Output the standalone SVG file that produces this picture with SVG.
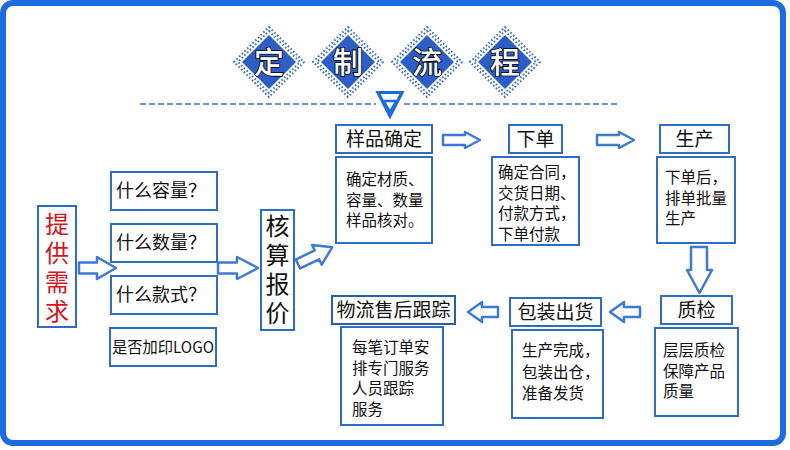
<svg xmlns="http://www.w3.org/2000/svg" width="790" height="450" viewBox="0 0 790 450">
<style>
.box{fill:#fff;stroke:#2f6cc4;stroke-width:2}
.arr{fill:#fff;stroke:#3d7ad6;stroke-width:2.5;stroke-linejoin:round}
.t{font-family:"Noto Sans CJK SC","Noto Sans",sans-serif;fill:#111}
.h{font-size:19px}
.d{font-size:15.5px}
.q{font-size:18px}
.v{font-size:24px;writing-mode:vertical-rl;letter-spacing:5px}
.ti{font-family:"Noto Sans CJK SC",sans-serif;font-size:30px;font-weight:500;fill:#fff;stroke:#000;stroke-width:1.6;paint-order:stroke;text-anchor:middle}
.dot{fill:none;stroke:#3b6fd2;stroke-width:2;stroke-dasharray:1.6 2.2}
.dia{fill:#2d5ec6}
</style>
<rect x="3" y="3" width="780" height="440" rx="10" fill="#fff" stroke="#1d6be0" stroke-width="6"/>

<g id="title">
  <g id="d1">
    <polygon class="dot" points="269,27 304,62 269,97 234,62"/>
    <polygon class="dot" points="269,31 300,62 269,93 238,62"/>
    <polygon class="dia" points="269,35 296,62 269,89 242,62"/>
    <text class="ti" x="269" y="73">定</text>
  </g>
  <g id="d2">
    <polygon class="dot" points="348,27 383,62 348,97 313,62"/>
    <polygon class="dot" points="348,31 379,62 348,93 317,62"/>
    <polygon class="dia" points="348,35 375,62 348,89 321,62"/>
    <text class="ti" x="348" y="73">制</text>
  </g>
  <g id="d3">
    <polygon class="dot" points="427,27 462,62 427,97 392,62"/>
    <polygon class="dot" points="427,31 458,62 427,93 396,62"/>
    <polygon class="dia" points="427,35 454,62 427,89 400,62"/>
    <text class="ti" x="427" y="73">流</text>
  </g>
  <g id="d4">
    <polygon class="dot" points="505,27 540,62 505,97 470,62"/>
    <polygon class="dot" points="505,31 536,62 505,93 474,62"/>
    <polygon class="dia" points="505,35 532,62 505,89 478,62"/>
    <text class="ti" x="505" y="73">程</text>
  </g>
  <line x1="140" y1="104" x2="376" y2="104" stroke="#3b6fd2" stroke-width="1.5" stroke-dasharray="6 3"/>
  <line x1="404" y1="104" x2="617" y2="104" stroke="#3b6fd2" stroke-width="1.5" stroke-dasharray="6 3"/>
  <polygon points="378,92.5 402,92.5 390,116" fill="none" stroke="#1d6be0" stroke-width="3.2" stroke-linejoin="miter"/>
  <polygon points="383.5,101 396.5,101 390,112" fill="none" stroke="#1d6be0" stroke-width="2.6"/>
</g>

<g id="n-req">
  <rect class="box" x="38" y="206" width="38" height="121"/>
  <text class="t v" x="57" y="212" style="fill:#d9121b">提供需求</text>
</g>
<g id="n-q1"><rect class="box" x="111" y="172" width="106" height="38"/><text class="t q" x="116" y="197">什么容量？</text></g>
<g id="n-q2"><rect class="box" x="111" y="224" width="106" height="38"/><text class="t q" x="116" y="249">什么数量？</text></g>
<g id="n-q3"><rect class="box" x="111" y="276" width="106" height="38"/><text class="t q" x="116" y="301">什么款式？</text></g>
<g id="n-q4"><rect class="box" x="110" y="328" width="106" height="38"/><text class="t" x="112" y="353" font-size="16" textLength="102" lengthAdjust="spacingAndGlyphs">是否加印LOGO</text></g>

<g id="n-quote">
  <rect class="box" x="261" y="210" width="33" height="120"/>
  <text class="t v" x="277.5" y="214">核算报价</text>
</g>

<g id="n-sample">
  <rect class="box" x="336" y="125" width="96" height="28"/>
  <text class="t h" x="384" y="146" text-anchor="middle">样品确定</text>
  <rect class="box" x="336" y="157" width="96" height="86"/>
  <text class="t d" x="346" y="185">确定材质、<tspan x="346" dy="20.5">容量、数量</tspan><tspan x="346" dy="20.5">样品核对。</tspan></text>
</g>
<g id="n-order">
  <rect class="box" x="509" y="125" width="53" height="28"/>
  <text class="t h" x="535.5" y="146" text-anchor="middle">下单</text>
  <rect class="box" x="492" y="157" width="87" height="88"/>
  <text class="t d" x="498" y="178">确定合同，<tspan x="498" dy="20.5">交货日期、</tspan><tspan x="498" dy="20.5">付款方式，</tspan><tspan x="498" dy="20.5">下单付款</tspan></text>
</g>
<g id="n-prod">
  <rect class="box" x="660" y="125" width="69" height="28"/>
  <text class="t h" x="694.5" y="146" text-anchor="middle">生产</text>
  <rect class="box" x="657" y="157" width="78" height="86"/>
  <text class="t d" x="665" y="183">下单后，<tspan x="665" dy="20.5">排单批量</tspan><tspan x="665" dy="20.5">生产</tspan></text>
</g>
<g id="n-qc">
  <rect class="box" x="661" y="296" width="71" height="28"/>
  <text class="t h" x="696.5" y="317" text-anchor="middle">质检</text>
  <rect class="box" x="655" y="328" width="83" height="88"/>
  <text class="t d" x="663" y="356">层层质检<tspan x="663" dy="20.5">保障产品</tspan><tspan x="663" dy="20.5">质量</tspan></text>
</g>
<g id="n-pack">
  <rect class="box" x="510" y="298" width="91" height="28"/>
  <text class="t h" x="555.5" y="319" text-anchor="middle">包装出货</text>
  <rect class="box" x="512" y="330" width="91" height="88"/>
  <text class="t d" x="522" y="356">生产完成，<tspan x="522" dy="21.5">包装出仓，</tspan><tspan x="522" dy="21.5">准备发货</tspan></text>
</g>
<g id="n-logi">
  <rect class="box" x="332" y="296" width="123" height="28" style="stroke:#2b5ea8"/>
  <text class="t h" x="393.5" y="317" text-anchor="middle">物流售后跟踪</text>
  <rect class="box" x="341" y="327" width="102" height="98"/>
  <text class="t d" x="352" y="353">每笔订单安<tspan x="352" dy="20.5">排专门服务</tspan><tspan x="352" dy="20.5">人员跟踪</tspan><tspan x="352" dy="20.5">服务</tspan></text>
</g>

<g id="connectors">
  <path class="arr" d="M79,262.5 H97 V257 L116,268 L97,279 V273.5 H79 Z"/>
  <path class="arr" d="M218,262.5 H237 V257 L258,268 L237,279 V273.5 H218 Z"/>
  <path class="arr" d="M0,-5 H21 V-11 L38,0 L21,11 V5 H0 Z" transform="translate(298,264) rotate(-26)"/>
  <path class="arr" d="M443,135 H465 V132 L480,140 L465,148 V145 H443 Z"/>
  <path class="arr" d="M597,135 H619 V132 L634,140 L619,148 V145 H597 Z"/>
  <path class="arr" d="M691,247 V270 H687 L699.5,293 L712,270 H707 V247 Z"/>
  <path class="arr" d="M640,307 H624 V302 L610,312 L624,322 V317 H640 Z"/>
  <path class="arr" d="M498,307 H482 V302 L468,312 L482,322 V317 H498 Z"/>
</g>
</svg>
